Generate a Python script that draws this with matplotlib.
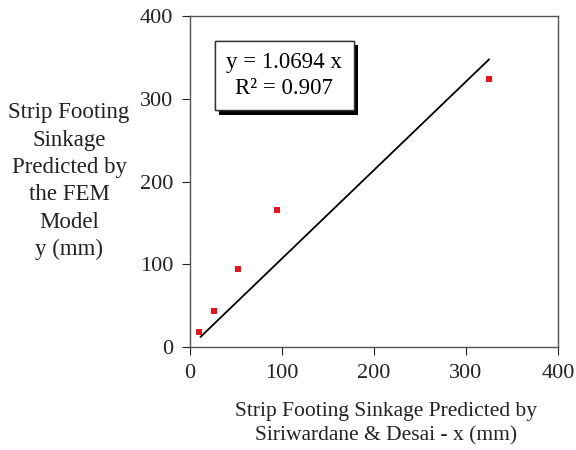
import numpy as np
import matplotlib.pyplot as plt
import matplotlib.patheffects as pe

# valores (mm)
x_siriwardane = [10, 26, 52, 95, 325]
y_fem = [18, 43, 94, 166, 324]
pendiente = 1.0694
r2 = 0.907

plt.rcParams['font.family'] = ['Liberation Serif', 'DejaVu Serif']

fig = plt.figure(figsize=(5.76, 4.5), dpi=100)
ax = fig.add_axes([0.3299, 0.2289, 0.6389, 0.7355])

ax.scatter(x_siriwardane, y_fem, marker='s', s=18, color='#e8141c', linewidths=0, zorder=3)

# linea de tendencia por el origen
xl = np.array([min(x_siriwardane) + 1.5, max(x_siriwardane)])
ax.plot(xl, pendiente * xl, color='black', lw=1.3, zorder=2)

ax.set_xlim(0, 400)
ax.set_ylim(0, 400)
ax.set_xticks([0, 100, 200, 300, 400])
ax.set_yticks([0, 100, 200, 300, 400])
ax.tick_params(direction='out', length=6, width=0.8, labelsize=16, colors='#222222', pad=6)
for s in ax.spines.values():
    s.set_color('#555555')
    s.set_linewidth(1.0)

t = ax.text(0.2565, 0.82, 'y = %.4f x\nR² = %.3f' % (pendiente, r2),
            transform=ax.transAxes, ha='center', va='center', fontsize=16.5,
            linespacing=1.3,
            bbox=dict(boxstyle='square,pad=0.5', fc='white', ec='#333333', lw=1.0))
t.get_bbox_patch().set_path_effects([
    pe.withSimplePatchShadow(offset=(3, -3), shadow_rgbFace='black', alpha=1.0),
    pe.Normal()])

fig.text(0.12, 0.597, 'Strip Footing\nSinkage\nPredicted by\nthe FEM\nModel\ny (mm)',
         ha='center', va='center', fontsize=16.5, linespacing=1.4, color='#222222')
fig.text(0.67, 0.058, 'Strip Footing Sinkage Predicted by\nSiriwardane & Desai - x (mm)',
         ha='center', va='center', fontsize=15.5, linespacing=1.4, color='#222222')

fig.savefig('out.png', dpi=100)
